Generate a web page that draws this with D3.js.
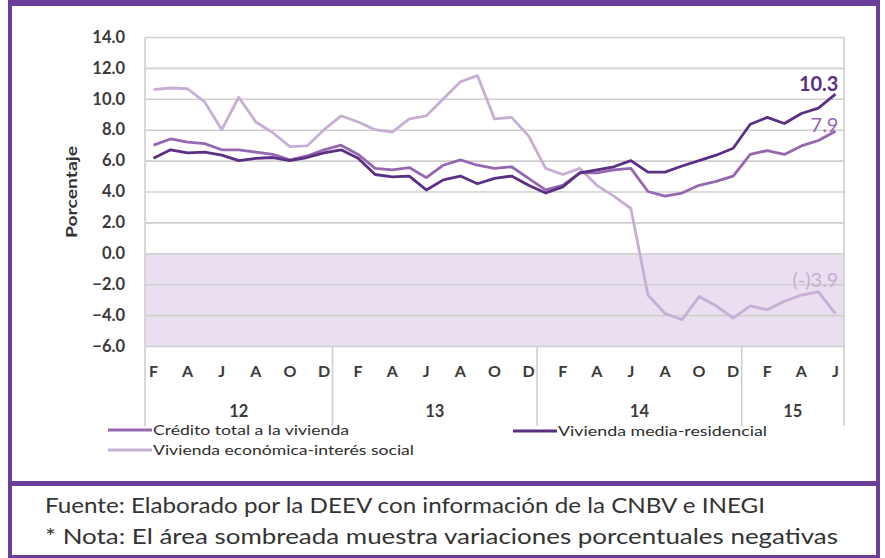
<!DOCTYPE html>
<html>
<head>
<meta charset="utf-8">
<script src="https://cdn.jsdelivr.net/npm/d3@7"></script>
<style>
	html, body { margin: 0; padding: 0; background: #fff; }
	svg { display: block; }
</style>
</head>
<body>
<script>
//--data
var meses = [
	"feb-12", "mar-12", "abr-12", "may-12", "jun-12", "jul-12", "ago-12", "sep-12", "oct-12", "nov-12", "dic-12",
	"ene-13", "feb-13", "mar-13", "abr-13", "may-13", "jun-13", "jul-13", "ago-13", "sep-13", "oct-13", "nov-13", "dic-13",
	"ene-14", "feb-14", "mar-14", "abr-14", "may-14", "jun-14", "jul-14", "ago-14", "sep-14", "oct-14", "nov-14", "dic-14",
	"ene-15", "feb-15", "mar-15", "abr-15", "may-15", "jun-15"
];
var etiquetas_mes = { "ene": "E", "feb": "F", "mar": "M", "abr": "A", "may": "M", "jun": "J", "jul": "J", "ago": "A", "sep": "S", "oct": "O", "nov": "N", "dic": "D" };
var anios = ["12", "13", "14", "15"];
var ticks_y = [14, 12, 10, 8, 6, 4, 2, 0, -2, -4, -6];

var credito_total = [
	7.0, 7.4, 7.2, 7.1, 6.7, 6.7, 6.55, 6.4, 6.05, 6.3, 6.7,
	7.0, 6.4, 5.5, 5.4, 5.55, 4.9, 5.7, 6.05, 5.7, 5.5, 5.6, 4.85,
	4.1, 4.4, 5.2, 5.2, 5.4, 5.5, 4.0, 3.7, 3.9, 4.4, 4.65, 5.0,
	6.4, 6.65, 6.4, 6.95, 7.3, 7.9
];
var media_residencial = [
	6.15, 6.7, 6.5, 6.55, 6.35, 6.0, 6.15, 6.2, 6.0, 6.2, 6.5,
	6.7, 6.15, 5.1, 4.95, 5.0, 4.1, 4.75, 5.0, 4.5, 4.85, 5.0, 4.4,
	3.9, 4.3, 5.2, 5.4, 5.6, 6.0, 5.25, 5.25, 5.65, 6.0, 6.35, 6.8,
	8.35, 8.8, 8.4, 9.05, 9.4, 10.3
];
var economica_social = [
	10.6, 10.7, 10.65, 9.8, 8.0, 10.1, 8.5, 7.8, 6.9, 6.95, 8.0,
	8.9, 8.5, 8.0, 7.85, 8.7, 8.9, 10.0, 11.1, 11.5, 8.7, 8.8, 7.6,
	5.5, 5.1, 5.5, 4.4, 3.7, 2.9, -2.7, -3.9, -4.3, -2.8, -3.4, -4.2,
	-3.4, -3.65, -3.1, -2.7, -2.5, -3.9
];
var fuente = "Fuente: Elaborado por la DEEV con información de la CNBV e INEGI";
var nota = "* Nota: El área sombreada muestra variaciones porcentuales negativas";
//END - data

var W = 885, H = 558;
var morado = "#6a3d9a";
var font = "Lato, 'Open Sans', sans-serif";

var svg = d3.select("body").append("svg")
	.attr("width", W)
	.attr("height", H);

//--frame
svg.append("rect").attr("x", 0).attr("y", 0).attr("width", W).attr("height", H).attr("fill", "#fff");
svg.append("rect").attr("x", 8).attr("y", 0).attr("width", 872).attr("height", 6).attr("fill", morado);
svg.append("rect").attr("x", 8).attr("y", 0).attr("width", 4).attr("height", H).attr("fill", morado);
svg.append("rect").attr("x", 876).attr("y", 0).attr("width", 4).attr("height", H).attr("fill", morado);
svg.append("rect").attr("x", 8).attr("y", 481).attr("width", 872).attr("height", 5).attr("fill", morado);
svg.append("rect").attr("x", 8).attr("y", 555).attr("width", 872).attr("height", 3).attr("fill", morado);

//--scales
var x = d3.scaleBand().domain(meses).range([145, 844]);
var y = d3.scaleLinear().domain([-6, 14]).range([346, 37]);
var xc = function (d) { return x(d) + x.bandwidth() / 2; };

//shaded negative area
svg.append("rect")
	.attr("x", x.range()[0])
	.attr("y", y(0))
	.attr("width", x.range()[1] - x.range()[0])
	.attr("height", y(-6) - y(0))
	.attr("fill", "#eadff0");

//gridlines + y labels
var yAxis = d3.axisLeft(y).tickValues(ticks_y).tickSize(-(x.range()[1] - x.range()[0])).tickFormat(d3.format(".1f"));
var gy = svg.append("g").attr("transform", "translate(" + x.range()[0] + ",0)").call(yAxis);
gy.select(".domain").remove();
gy.selectAll(".tick line").attr("stroke", "#cfcfcf").attr("stroke-width", 1.6);
gy.selectAll(".tick text")
	.attr("x", -20)
	.attr("fill", "#3a3a3a")
	.style("font-family", font)
	.style("font-size", "16.5px")
	.style("font-weight", "bold");

//y title
svg.append("text")
	.attr("transform", "translate(77,192) rotate(-90)")
	.attr("text-anchor", "middle")
	.attr("textLength", 92)
	.attr("lengthAdjust", "spacingAndGlyphs")
	.attr("fill", "#333")
	.style("font-family", font)
	.style("font-size", "16px")
	.style("font-weight", "bold")
	.text("Porcentaje");

//vertical separators (plot borders + year groups)
var cortes = [meses[0]];
anios.forEach(function (a, k) {
	if (k > 0) cortes.push(meses.find(function (m) { return m.slice(4) === a; }));
});
var xs = cortes.map(function (m) { return x(m); });
xs.push(x.range()[1]);
svg.selectAll(".sep").data(xs).enter().append("line")
	.attr("x1", function (d) { return d; })
	.attr("x2", function (d) { return d; })
	.attr("y1", function (d, i) { return (i === 0 || i === xs.length - 1) ? y(14) : y(-6); })
	.attr("y2", 426)
	.attr("stroke", "#cfcfcf")
	.attr("stroke-width", 1.6);

//month labels (every second month)
var xAxis = d3.axisBottom(x)
	.tickValues(meses.filter(function (d, i) { return i % 2 === 0; }))
	.tickSize(0)
	.tickFormat(function (d) { return etiquetas_mes[d.slice(0, 3)]; });
var gx = svg.append("g").attr("transform", "translate(0," + y(-6) + ")").call(xAxis);
gx.select(".domain").remove();
gx.selectAll(".tick text")
	.attr("y", 20)
	.attr("fill", "#3a3a3a")
	.style("font-family", font)
	.style("font-size", "16px")
	.style("font-weight", "bold");

//year labels
svg.selectAll(".anio").data(anios).enter().append("text")
	.attr("x", function (d, i) { return (xs[i] + xs[i + 1]) / 2; })
	.attr("y", 417)
	.attr("text-anchor", "middle")
	.attr("fill", "#3a3a3a")
	.style("font-family", font)
	.style("font-size", "16.5px")
	.style("font-weight", "bold")
	.text(function (d) { return d; });

//--lines
var series = [
	{ name: "Vivienda económica-interés social", values: economica_social, color: "#c7aed4", label: "(-)3.9", dy: -27, weight: "normal" },
	{ name: "Crédito total a la vivienda", values: credito_total, color: "#9467b0", label: "7.9", dy: 1, weight: "normal" },
	{ name: "Vivienda media-residencial", values: media_residencial, color: "#5b2f84", label: "10.3", dy: -3, weight: "bold" }
];

var line = d3.line()
	.x(function (d, i) { return xc(meses[i]); })
	.y(function (d) { return y(d); });

series.forEach(function (s) {
	svg.append("path")
		.datum(s.values)
		.attr("d", line)
		.attr("fill", "none")
		.attr("stroke", s.color)
		.attr("stroke-width", 2.8)
		.attr("stroke-linejoin", "round");

	var last = s.values[s.values.length - 1];
	svg.append("text")
		.attr("x", xc(meses[meses.length - 1]) + 3)
		.attr("y", y(last) + s.dy)
		.attr("text-anchor", "end")
		.attr("fill", s.color)
		.style("font-family", font)
		.style("font-size", "20px")
		.style("font-weight", s.weight)
		.text(s.label);
});

//--legend
var leyenda = [
	{ s: series[1], x: 108, y: 430, w: 196 },
	{ s: series[0], x: 108, y: 450, w: 261 },
	{ s: series[2], x: 513, y: 431, w: 209 }
];
leyenda.forEach(function (l) {
	svg.append("line")
		.attr("x1", l.x).attr("x2", l.x + 44)
		.attr("y1", l.y).attr("y2", l.y)
		.attr("stroke", l.s.color)
		.attr("stroke-width", 2.8);
	svg.append("text")
		.attr("x", l.x + 45)
		.attr("y", l.y + 5)
		.attr("textLength", l.w)
		.attr("lengthAdjust", "spacingAndGlyphs")
		.attr("fill", "#2e2e2e")
		.style("font-family", font)
		.style("font-size", "14px")
		.text(l.s.name);
});

//--footer
svg.append("text")
	.attr("x", 45).attr("y", 513)
	.attr("textLength", 720)
	.attr("lengthAdjust", "spacingAndGlyphs")
	.attr("fill", "#333")
	.style("font-family", font)
	.style("font-size", "22px")
	.text(fuente);
svg.append("text")
	.attr("x", 45).attr("y", 544)
	.attr("textLength", 793)
	.attr("lengthAdjust", "spacingAndGlyphs")
	.attr("fill", "#333")
	.style("font-family", font)
	.style("font-size", "22px")
	.text(nota);
</script>
</body>
</html>
